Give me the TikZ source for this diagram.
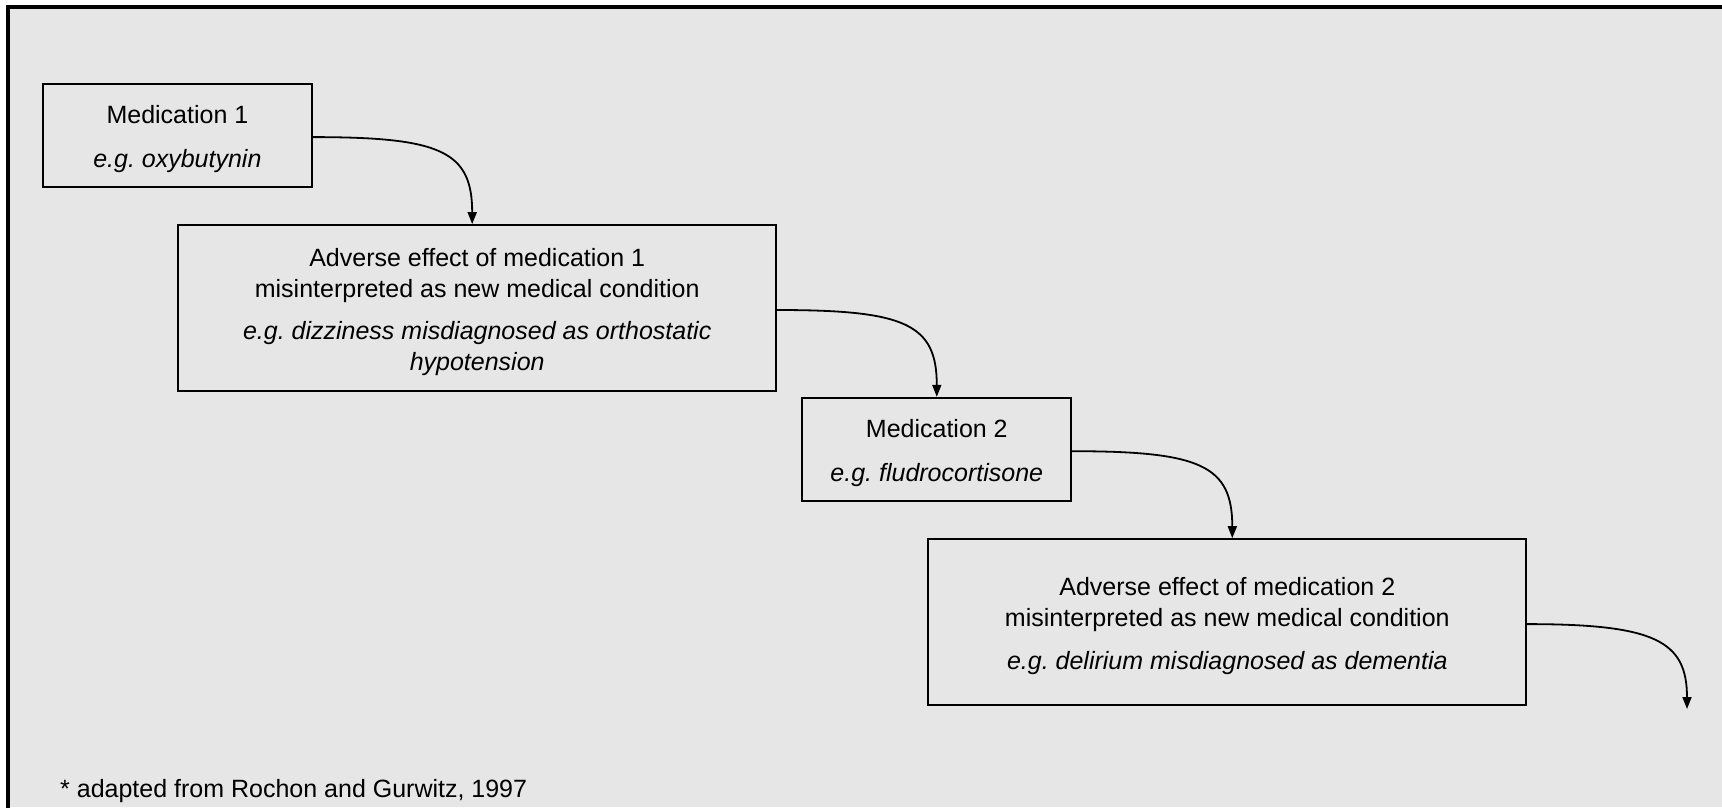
\documentclass[tikz,border=0pt]{standalone}
\usepackage{fontspec}
\setmainfont{Liberation Sans}
\usepackage{tikz}
\usetikzlibrary{arrows.meta}
\definecolor{panelgrey}{RGB}{230,230,230}
\frenchspacing
\newcommand{\boxstrut}{\rule{0pt}{26pt}}

\begin{document}
\begin{tikzpicture}[x=1pt,y=-1pt,
	>={Triangle[length=12pt,width=9pt]},
	box/.style={rectangle,draw,line width=1.8pt,align=center,inner sep=0pt,
		font=\fontsize{25}{30.7}\selectfont},
	smallbox/.style={box,minimum width=269pt,minimum height=103pt},
	bigbox/.style={box,minimum width=598pt,minimum height=166pt},
	link/.style={->,line width=1.8pt}
	]
	\useasboundingbox (0,0) rectangle (1722,807);
	\fill [white] (0,0) rectangle (1722,807);
	\fill [panelgrey] (7,7) rectangle (1722,807);
	\draw [line width=4pt] (1730,7) -- (7.5,7) -- (7.5,815);

	\node [smallbox] (med1)	at (177.4,135.1)	{\boxstrut Medication 1\\[13pt] \textit{e.g. oxybutynin}};
	\node [bigbox] (adv1)	at (477.2,308)		{\boxstrut Adverse effect of medication 1\\ misinterpreted as new medical condition\\[12pt]
		\textit{e.g. dizziness misdiagnosed as orthostatic}\\ \textit{hypotension}};
	\node [smallbox] (med2)	at (936.8,449.2)	{\boxstrut Medication 2\\[13pt] \textit{e.g. fludrocortisone}};
	\node [bigbox] (adv2)	at (1227.3,622.1)	{\boxstrut Adverse effect of medication 2\\ misinterpreted as new medical condition\\[12pt]
		\textit{e.g. delirium misdiagnosed as dementia}};
	\coordinate (next)	at (1687,709);

	\node [anchor=base west,inner sep=0pt,font=\fontsize{25}{30}\selectfont] (source) at (60,797)
		{* adapted from Rochon and Gurwitz, 1997};

	\draw [link] ([yshift=-2pt]med1.east)	.. controls +(128,0) and +(0,-73) .. ([xshift=-5pt]adv1.north);
	\draw [link] ([yshift=-2pt]adv1.east)	.. controls +(128,0) and +(0,-73) .. (med2.north);
	\draw [link] ([yshift=-2pt]med2.east)	.. controls +(128,0) and +(0,-73) .. ([xshift=5pt]adv2.north);
	\draw [link] ([yshift=-2pt]adv2.east)	.. controls +(128,0) and +(0,-68) .. (next);

\end{tikzpicture}
\end{document}
